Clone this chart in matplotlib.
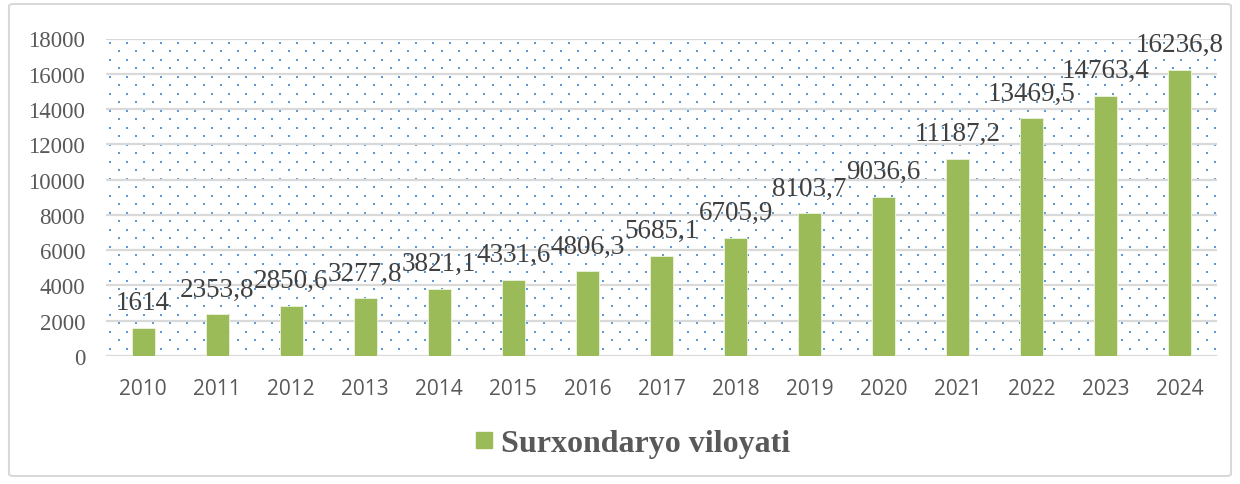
import numpy as np
import matplotlib.pyplot as plt
from matplotlib.patches import FancyBboxPatch
from matplotlib.lines import Line2D

years = ["2010", "2011", "2012", "2013", "2014", "2015", "2016", "2017",
         "2018", "2019", "2020", "2021", "2022", "2023", "2024"]
values = [1614, 2353.8, 2850.6, 3277.8, 3821.1, 4331.6, 4806.3, 5685.1,
          6705.9, 8103.7, 9036.6, 11187.2, 13469.5, 14763.4, 16236.8]
value_labels = ["1614", "2353,8", "2850,6", "3277,8", "3821,1", "4331,6", "4806,3",
                "5685,1", "6705,9", "8103,7", "9036,6", "11187,2", "13469,5",
                "14763,4", "16236,8"]
series_name = "Surxondaryo viloyati"
y_ticks = [0, 2000, 4000, 6000, 8000, 10000, 12000, 14000, 16000, 18000]

GREEN = "#9BBB59"
W, H = 1240, 485

fig = plt.figure(figsize=(W / 100, H / 100), dpi=100)
fig.patch.set_facecolor("white")

# chart frame
fig.patches.append(FancyBboxPatch((9 / W, 8 / H), 1222 / W, 472 / H,
                                  boxstyle="round,pad=0,rounding_size=0.004",
                                  transform=fig.transFigure, facecolor="none",
                                  edgecolor="#D9D9D9", linewidth=1.5, zorder=-1))

left, right, top, bottom = 106, 1217, 39.5, 357
ax = fig.add_axes([left / W, 1 - bottom / H, (right - left) / W, (bottom - top) / H])
ax.set_facecolor("none")

# dotted background pattern
aw, ah = right - left, bottom - top
dots_x, dots_y = [], []
for r, yy in enumerate(np.arange(4, ah, 8.5)):
    off = 0 if r % 2 == 0 else 8.5
    for xx in np.arange(4 + off, aw, 17):
        dots_x.append(xx / aw)
        dots_y.append(1 - yy / ah)
ax.scatter(dots_x, dots_y, s=2.2, color="#5B9BD5", marker="s", linewidths=0,
           transform=ax.transAxes, zorder=0.5)

x = np.arange(len(years))
ax.bar(x, values, width=0.31, color=GREEN, edgecolor="#EEF3E2", linewidth=0.6, zorder=3)

for xi, v, lab in zip(x, values, value_labels):
    ax.annotate(lab, (xi, v), xytext=(0, 18), textcoords="offset points",
                ha="center", va="center", fontsize=19.5, color="#404040",
                family="Liberation Serif", zorder=4)

ax.set_xlim(-0.5, len(years) - 0.5)
ax.set_ylim(0, 18000)
ax.set_yticks(y_ticks)
ax.set_yticklabels([str(t) for t in y_ticks], family="Liberation Serif",
                   fontsize=16.5, color="#595959")
ax.set_xticks(x)
ax.set_xticklabels(years, family="Open Sans", fontsize=15, color="#595959")
ax.tick_params(axis="both", length=0)
ax.tick_params(axis="y", pad=15)
ax.tick_params(axis="x", pad=16)
ax.grid(axis="y", color="#D9D9D9", linewidth=1.6, zorder=1)
ax.set_axisbelow(True)
for s in ax.spines.values():
    s.set_visible(False)

handle = Line2D([], [], marker="s", linestyle="none", markersize=11.5,
                markerfacecolor=GREEN, markeredgecolor=GREEN)
fig.legend([handle], [series_name], loc="center", bbox_to_anchor=(633 / W, 1 - 444 / H),
           frameon=False, handlelength=0.5, handletextpad=0.3,
           prop={"family": "Liberation Serif", "weight": "bold", "size": 23})
for t in fig.legends[0].get_texts():
    t.set_color("#595959")

fig.savefig("out.png", dpi=100)
